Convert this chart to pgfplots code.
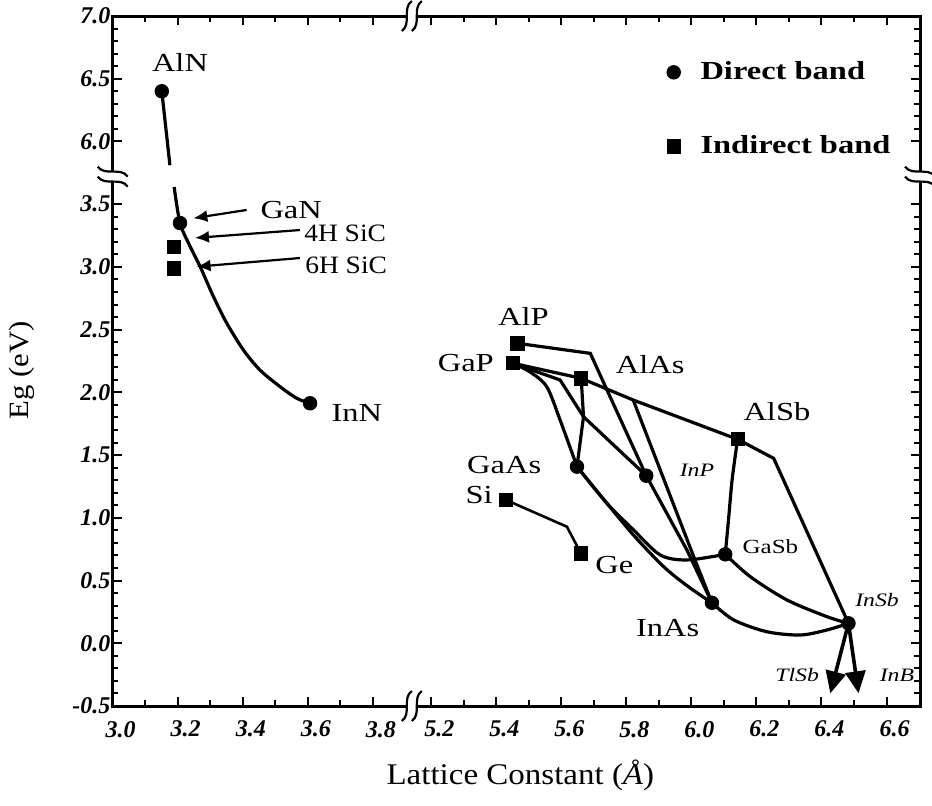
\documentclass[border=0pt]{standalone}
\usepackage{pgfplots}
\pgfplotsset{compat=1.18}
\usepackage{fontspec}
\setmainfont{Liberation Serif}
\newfontfamily\lbl[FakeStretch=1.25]{Liberation Serif}
\newfontfamily\lblb[FakeStretch=1.1]{Liberation Serif}
\usetikzlibrary{arrows.meta}

\makeatletter
\def\brkx#1{\begingroup\pgfkeys{/pgf/fpu=true,/pgf/fpu/output format=fixed}\pgfmathparse{ifthenelse(#1<4.5,#1,#1-1.22)}\pgfmath@smuggleone\pgfmathresult\endgroup}
\def\brky#1{\begingroup\pgfkeys{/pgf/fpu=true,/pgf/fpu/output format=fixed}\pgfmathparse{ifthenelse(#1<5,#1,#1-2)}\pgfmath@smuggleone\pgfmathresult\endgroup}
\makeatother

\pgfplotsset{
  curve/.style={black, line width=1.6pt, no markers, forget plot},
  dir/.style={only marks, mark=*, mark size=3.4pt, black, forget plot},
  ind/.style={only marks, mark=square*, mark size=3.3pt, black, forget plot},
}

\begin{document}
\begin{tikzpicture}
\useasboundingbox (-56.35pt,-49.5pt) rectangle (409.65pt,353pt);
\begin{axis}[
  scale only axis,
  width=403.65pt, height=345pt,
  x coord trafo/.code={\brkx{#1}},
  y coord trafo/.code={\brky{#1}},
  xmin=3.0, xmax=6.703, ymin=-0.5, ymax=7.0,
  axis line style={line width=1.5pt},
  xtick={3.0,3.2,3.4,3.6,3.8,5.2,5.4,5.6,5.8,6.0,6.2,6.4,6.6},
  xticklabels={3.0,3.2,3.4,3.6,3.8,5.2,5.4,5.6,5.8,6.0,6.2,6.4,6.6},
  minor xtick={3.1,3.3,3.5,3.7,5.3,5.5,5.7,5.9,6.1,6.3,6.5},
  ytick={-0.5,0.0,0.5,1.0,1.5,2.0,2.5,3.0,3.5,6.0,6.5,7.0},
  yticklabels={-0.5,0.0,0.5,1.0,1.5,2.0,2.5,3.0,3.5,6.0,6.5,7.0},
  minor ytick={-0.4,-0.3,-0.2,-0.1,0.1,0.2,0.3,0.4,0.6,0.7,0.8,0.9,1.1,1.2,1.3,1.4,1.6,1.7,1.8,1.9,2.1,2.2,2.3,2.4,2.6,2.7,2.8,2.9,3.1,3.2,3.3,3.4,6.1,6.2,6.3,6.4,6.6,6.7,6.8,6.9},
  major tick length=4.5pt, minor tick length=2.8pt,
  every tick/.style={black, line width=1pt},
  ticklabel style={font=\fontsize{12}{12}\selectfont\bfseries\itshape},
  xticklabel style={yshift=-4pt, xshift=4pt},
  yticklabel style={inner sep=1pt},
  xlabel={Lattice Constant (\textit{Å})},
  ylabel={Eg (eV)},
  xlabel style={font=\lblb\fontsize{15}{15}\selectfont, at={(axis description cs:0.505,0)}, anchor=center, yshift=-34.5pt},
  ylabel style={font=\lblb\fontsize{14}{14}\selectfont, at={(axis description cs:0,0.487)}, anchor=center, yshift=45.35pt},
  legend style={draw=none, fill=none, at={(axis description cs:0.686,0.94)}, anchor=north west,
    font=\lbl\fontsize{13}{13}\selectfont\bfseries, row sep=22.5pt, inner sep=0pt, column sep=8pt},
  legend cell align=left,
  clip=false,
]
\addlegendimage{only marks, mark=*, mark size=3.4pt, black}
\addlegendentry{Direct band}
\addlegendimage{only marks, mark=square*, mark size=3.3pt, black}
\addlegendentry{Indirect band}

% nitride branch (broken at the axis break)
\addplot[curve] coordinates {(3.151,6.40) (3.176,5.81)};
\addplot[curve, smooth] coordinates {(3.189,3.637) (3.207,3.350) (3.235,3.18) (3.269,3.002) (3.310,2.763) (3.351,2.551) (3.402,2.338) (3.453,2.178) (3.515,2.045) (3.566,1.953) (3.607,1.913)};

% III-V alloys
\addplot[curve] coordinates {(5.465,2.391) (5.689,2.311) (5.729,2.083) (5.861,1.336) (5.986,0.744) (6.063,0.323)};
\addplot[curve] coordinates {(5.821,1.939) (6.007,0.690) (6.063,0.323)};
\addplot[curve] coordinates {(5.451,2.232) (5.661,2.112) (5.821,1.939) (6.142,1.626)};
\addplot[curve] coordinates {(6.142,1.626) (6.253,1.474) (6.483,0.159)};
\addplot[curve, smooth] coordinates {(6.142,1.626) (6.125,1.301) (6.114,0.983) (6.104,0.709)};
\addplot[curve, smooth] coordinates {(6.104,0.709) (6.181,0.531) (6.294,0.345) (6.417,0.212) (6.483,0.159)};
\addplot[curve, smooth] coordinates {(6.063,0.323) (6.130,0.186) (6.232,0.092) (6.335,0.066) (6.417,0.106) (6.483,0.159)};
\addplot[curve, smooth] coordinates {(5.648,1.408) (5.740,1.116) (5.822,0.903) (5.904,0.704) (5.986,0.664) (6.104,0.709)};
\addplot[curve, smooth] coordinates {(5.648,1.408) (5.740,1.116) (5.827,0.847) (5.919,0.600) (5.996,0.441) (6.063,0.323)};
\addplot[curve, smooth] coordinates {(5.451,2.232) (5.504,2.162) (5.555,2.045) (5.596,1.780) (5.648,1.408)};
\addplot[curve] coordinates {(5.451,2.232) (5.494,2.192) (5.596,2.099) (5.668,1.806) (5.861,1.336)};
\addplot[curve] coordinates {(5.661,2.112) (5.668,1.806) (5.648,1.408)};
\addplot[curve, line width=1.3pt] coordinates {(5.430,1.142) (5.617,0.929) (5.660,0.717)};
% TlSb and InBi arrows
\addplot[black, line width=1.8pt, forget plot, -{Triangle[length=11pt,width=10pt]}] coordinates {(6.483,0.159) (6.427,-0.399)};
\addplot[black, line width=1.8pt, forget plot, -{Triangle[length=11pt,width=10pt]}] coordinates {(6.483,0.159) (6.514,-0.399)};

% compounds
\addplot[dir] coordinates {(3.151,6.40) (3.207,3.350) (3.607,1.913) (5.648,1.408) (5.861,1.336) (6.104,0.709) (6.063,0.323) (6.483,0.159)};
\addplot[ind] coordinates {(3.189,3.161) (3.189,2.989) (5.465,2.391) (5.451,2.232) (5.661,2.112) (6.142,1.626) (5.430,1.142) (5.660,0.717)};

% annotation arrows
\draw[-{Latex[length=7pt,width=6pt]}, line width=1.1pt] (axis cs:3.412,3.454) -- (axis cs:3.248,3.388);
\draw[-{Latex[length=7pt,width=6pt]}, line width=1.1pt] (axis cs:3.576,3.294) -- (axis cs:3.253,3.231);
\draw[-{Latex[length=7pt,width=6pt]}, line width=1.1pt] (axis cs:3.576,3.071) -- (axis cs:3.258,3.002);

% labels
\begin{scope}[every node/.style={font=\lbl\fontsize{13}{13}\selectfont, inner sep=0pt}]
\node at (axis cs:3.207,6.626) {AlN};
\node at (axis cs:3.549,3.454) {GaN};
\node[font=\lblb\fontsize{12.5}{12.5}\selectfont] at (axis cs:3.715,3.270) {4H SiC};
\node[font=\lblb\fontsize{12.5}{12.5}\selectfont] at (axis cs:3.718,3.015) {6H SiC};
\node at (axis cs:3.751,1.833) {InN};
\node at (axis cs:5.483,2.603) {AlP};
\node at (axis cs:5.306,2.232) {GaP};
\node at (axis cs:5.873,2.218) {AlAs};
\node at (axis cs:6.263,1.846) {AlSb};
\node at (axis cs:5.424,1.421) {GaAs};
\node at (axis cs:5.347,1.182) {Si};
\node at (axis cs:5.763,0.624) {Ge};
\node at (axis cs:5.927,0.119) {InAs};
\node[font=\lbl\fontsize{10}{10}\selectfont] at (axis cs:6.243,0.770) {GaSb};
\node[font=\lbl\fontsize{9.5}{9.5}\selectfont\itshape] at (axis cs:6.017,1.381) {InP};
\node[font=\lbl\fontsize{9.5}{9.5}\selectfont\itshape] at (axis cs:6.571,0.345) {InSb};
\node[font=\lbl\fontsize{9.5}{9.5}\selectfont\itshape] at (axis cs:6.325,-0.253) {TlSb};
\node[font=\lbl\fontsize{9.5}{9.5}\selectfont\itshape] at (axis cs:6.632,-0.253) {InB};
\end{scope}

\coordinate (bb) at (axis cs:3.92,-0.5);
\coordinate (bt) at (axis cs:3.92,7.0);
\coordinate (bl) at (axis cs:3.0,3.72);
\coordinate (br) at (axis cs:6.703,3.72);
\end{axis}
\foreach \c/\r in {bb/0,bt/0,bl/90,br/90} {
  \begin{scope}[shift={(\c)}, rotate=\r]
    \fill[white] (-2.5pt,-1.8pt) rectangle (2.5pt,1.8pt);
    \draw[line width=1.1pt] (-5pt,-7.5pt) .. controls (0pt,-4pt) and (-5pt,4pt) .. (0pt,7.5pt);
    \draw[line width=1.1pt] (0pt,-7.5pt) .. controls (5pt,-4pt) and (0pt,4pt) .. (5pt,7.5pt);
  \end{scope}
}
\end{tikzpicture}
\end{document}
